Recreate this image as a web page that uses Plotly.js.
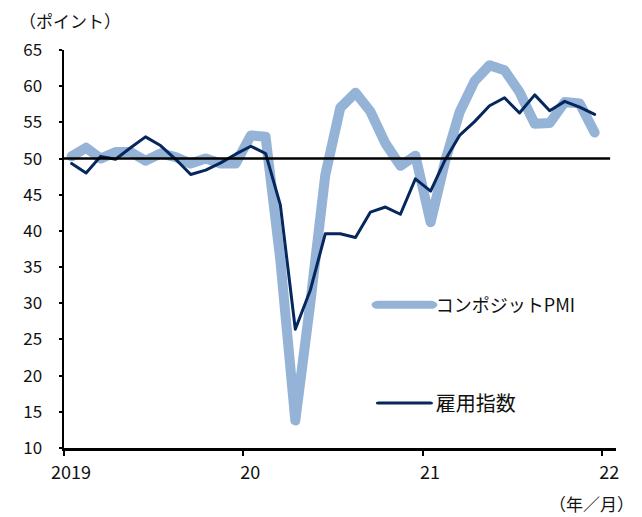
<!DOCTYPE html>
<html>
<head>
<meta charset="utf-8">
<script src="https://cdn.plot.ly/plotly-3.0.1.min.js"></script>
<style>
html,body{margin:0;padding:0;background:#fff;}
#chart{width:642px;height:517px;}
#chart path.js-line{stroke-linejoin:round !important;stroke-linecap:round !important;}
#chart .scrollbox{clip-path:none !important;}
#chart .legendlines path.js-line{transform:translateX(-26px) scaleX(1.733);}
#chart g.legend .legendlines path.js-line{stroke-width:8px !important;}
</style>
</head>
<body>
<div id="chart"></div>
<script>
const months = [
  '2019-01','2019-02','2019-03','2019-04','2019-05','2019-06','2019-07','2019-08','2019-09','2019-10','2019-11','2019-12',
  '2020-01','2020-02','2020-03','2020-04','2020-05','2020-06','2020-07','2020-08','2020-09','2020-10','2020-11','2020-12',
  '2021-01','2021-02','2021-03','2021-04','2021-05','2021-06','2021-07','2021-08','2021-09','2021-10','2021-11','2021-12'
];
const compositePMI = [
  50.3, 51.5, 50.0, 50.9, 50.9, 49.7, 50.7, 50.2, 49.3, 50.0, 49.3, 49.3,
  53.2, 53.0, 36.0, 13.8, 30.0, 47.7, 57.0, 59.1, 56.5, 52.1, 49.0, 50.4,
  41.2, 49.6, 56.4, 60.7, 62.9, 62.2, 59.2, 54.8, 54.9, 57.8, 57.6, 53.6
];
const employmentIndex = [
  49.3, 48.0, 50.3, 49.9, 51.5, 53.0, 51.8, 49.9, 47.8, 48.4, 49.4, 50.6,
  51.7, 50.7, 43.6, 26.4, 31.8, 39.6, 39.6, 39.1, 42.6, 43.3, 42.3, 47.2,
  45.5, 49.8, 53.2, 55.1, 57.3, 58.4, 56.3, 58.8, 56.6, 57.9, 57.1, 56.1
];
const seriesNames = ['コンポジットPMI', '雇用指数'];
const tickVals = ['2019-01-01','2020-01-01','2021-01-01','2022-01-01'];
const tickText = ['2019','20','21','22'];
const refLevel = 50;

const FONT = '"Noto Sans CJK JP", "Noto Sans", sans-serif';

const traces = [
  {
    x: months, y: compositePMI, name: seriesNames[0], type: 'scatter', mode: 'lines',
    xperiod: 'M1', xperiodalignment: 'middle',
    line: {color: '#95b3d7', width: 10}, legend: 'legend'
  },
  {
    x: months, y: employmentIndex, name: seriesNames[1], type: 'scatter', mode: 'lines',
    xperiod: 'M1', xperiodalignment: 'middle',
    line: {color: '#06275e', width: 3}, legend: 'legend2'
  }
];

const layout = {
  width: 642, height: 517,
  margin: {l: 64, r: 26, t: 50, b: 69},
  paper_bgcolor: '#fff', plot_bgcolor: '#fff',
  font: {family: FONT, size: 17, color: '#111'},
  showlegend: true,
  legend: {x: 0.601, y: 0.359, xanchor: 'left', yanchor: 'middle', bgcolor: 'rgba(0,0,0,0)', font: {size: 18, family: FONT, color: '#111'}},
  legend2: {x: 0.601, y: 0.113, xanchor: 'left', yanchor: 'middle', bgcolor: 'rgba(0,0,0,0)', font: {size: 20, family: FONT, color: '#111'}},
  xaxis: {
    type: 'date', range: ['2019-01-01', '2022-01-29'],
    tickvals: tickVals, ticktext: tickText,
    ticks: 'outside', ticklen: 5, tickwidth: 2, tickcolor: '#000',
    ticklabelshift: 7, ticklabelstandoff: 2,
    showline: true, linewidth: 2.5, linecolor: '#000',
    showgrid: false, zeroline: false,
    tickfont: {size: 18, family: FONT, color: '#111'}
  },
  yaxis: {
    range: [10, 65], tickmode: 'linear', tick0: 10, dtick: 5,
    ticks: 'outside', ticklen: 3, tickwidth: 2, tickcolor: '#000',
    ticklabelstandoff: 13,
    showline: true, linewidth: 2.5, linecolor: '#000',
    showgrid: false, zeroline: false,
    tickfont: {size: 17, family: FONT, color: '#111'}
  },
  shapes: [
    {type: 'line', xref: 'x', yref: 'y', x0: '2019-01-01', x1: '2022-01-17', y0: refLevel, y1: refLevel,
     line: {color: '#000', width: 2.5}, layer: 'above'}
  ],
  annotations: [
    {text: '（ポイント）', xref: 'paper', yref: 'paper', x: -0.085, y: 1.0, yshift: 30,
     xanchor: 'left', yanchor: 'middle', showarrow: false, font: {size: 17, family: FONT, color: '#111'}},
    {text: '（年／月）', xref: 'paper', yref: 'paper', x: 1.036, y: 0, yshift: -55,
     xanchor: 'right', yanchor: 'middle', showarrow: false, font: {size: 17, family: FONT, color: '#111'}}
  ]
};

Plotly.newPlot('chart', traces, layout, {displayModeBar: false, staticPlot: true});
</script>
</body>
</html>
